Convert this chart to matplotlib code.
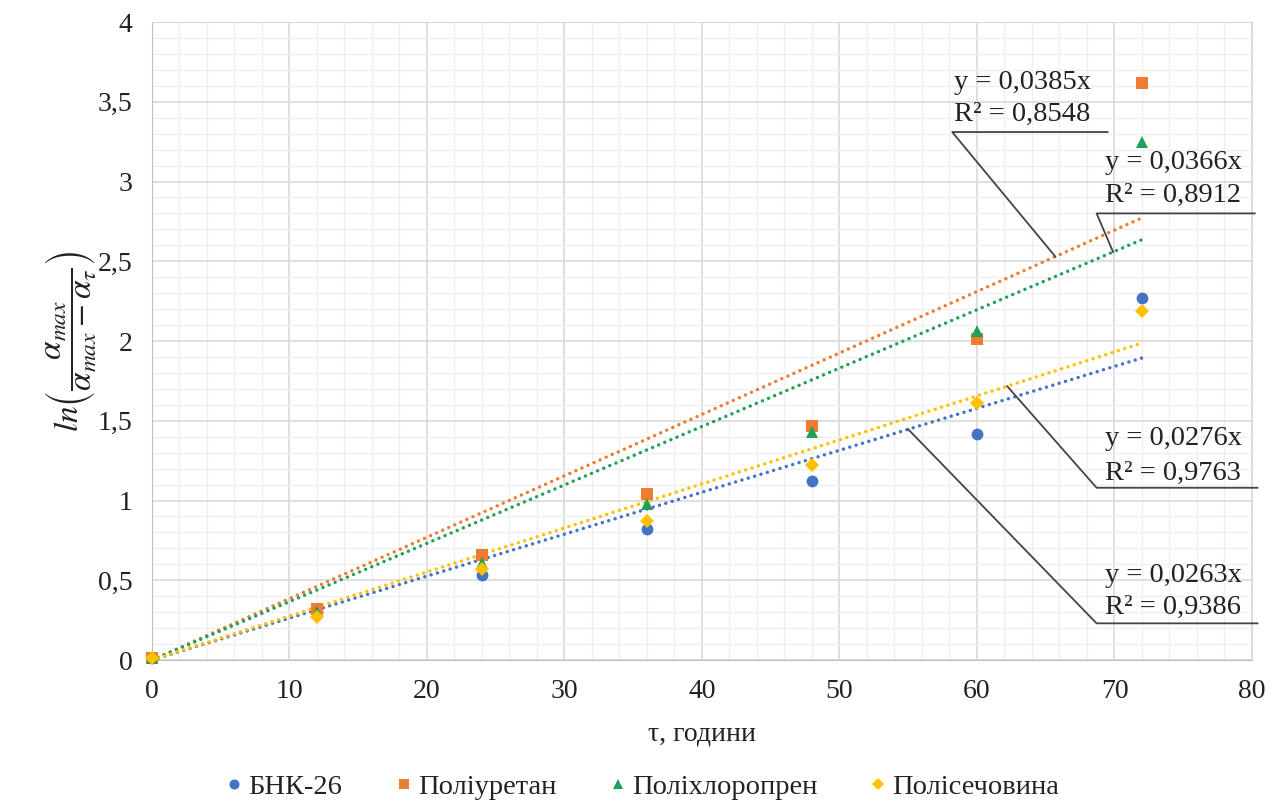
import matplotlib

matplotlib.use("Agg")
import matplotlib.pyplot as plt
from matplotlib.ticker import FuncFormatter, MultipleLocator, AutoMinorLocator

plt.rcParams["font.family"] = ["Liberation Serif", "DejaVu Serif"]
plt.rcParams["mathtext.fontset"] = "stix"

# sampling times, hours
hours = [0, 12, 24, 36, 48, 60, 72]

# ln(a_max / (a_max - a_t)) per coating
bnk = [0.01, 0.30, 0.53, 0.82, 1.12, 1.42, 2.27]
polyurethane = [0.01, 0.32, 0.66, 1.04, 1.47, 2.01, 3.62]
polychloroprene = [0.01, 0.30, 0.61, 0.98, 1.43, 2.06, 3.25]
polyurea = [0.01, 0.27, 0.57, 0.87, 1.22, 1.61, 2.19]

names = ["БНК-26", "Поліуретан", "Поліхлоропрен", "Полісечовина"]
series = [bnk, polyurethane, polychloroprene, polyurea]
colors = ["#4472C4", "#ED7D31", "#21A05A", "#FFC000"]
markers = ["o", "s", "^", "D"]
msizes = [8.5, 8.0, 9.0, 7.5]

# linear fits through the origin: slope, R^2
slopes = [0.0263, 0.0385, 0.0366, 0.0276]
r2 = ["0,9386", "0,8548", "0,8912", "0,9763"]
slope_txt = ["0,0263", "0,0385", "0,0366", "0,0276"]

# callout boxes: text anchor (x, y1, y2), underline (x0, x1, y), leader end x on the fit line
callouts = [
    (69.3, 0.53, 0.33, 68.7, 80.4, 0.23, 55.0),
    (58.3, 3.62, 3.42, 58.2, 69.5, 3.31, 65.7),
    (69.3, 3.12, 2.91, 68.7, 80.2, 2.80, 69.9),
    (69.3, 1.39, 1.17, 68.7, 80.4, 1.08, 62.2),
]

fig = plt.figure(figsize=(12.74, 8.06), dpi=100)
ax = fig.add_axes([0.1193, 0.1811, 0.8634, 0.7916])

ax.set_xlim(0, 80)
ax.set_ylim(0, 4)
ax.xaxis.set_major_locator(MultipleLocator(10))
ax.yaxis.set_major_locator(MultipleLocator(0.5))
ax.xaxis.set_minor_locator(AutoMinorLocator(5))
ax.yaxis.set_minor_locator(AutoMinorLocator(5))
ax.grid(which="major", color="#D9D9D9", lw=1.2)
ax.grid(which="minor", color="#EFEFEF", lw=0.9)
ax.set_axisbelow(True)
for s in ax.spines.values():
    s.set_color("#D9D9D9")
ax.spines["left"].set_color("#BFBFBF")
ax.spines["bottom"].set_color("#BFBFBF")

fmt = FuncFormatter(lambda v, _: f"{v:g}".replace(".", ","))
ax.xaxis.set_major_formatter(fmt)
ax.yaxis.set_major_formatter(fmt)
ax.tick_params(which="both", length=0, labelsize=20, colors="#222222")
ax.tick_params(axis="y", pad=14)
ax.tick_params(axis="x", pad=14)

# fitted lines first, markers on top
fit_x = [0, hours[-1]]
for k, c in zip(slopes, colors):
    ax.plot(fit_x, [k * x for x in fit_x], ls=(0, (0.01, 1.9)), lw=2.5,
            color=c, dash_capstyle="round", zorder=2)

for ys, name, c, m, ms in zip(series, names, colors, markers, msizes):
    ax.plot(hours, ys, ls="none", marker=m, ms=ms, color=c, label=name,
            markeredgewidth=0, clip_on=False, zorder=3)

for k, sl, rr, (tx, ty1, ty2, ux0, ux1, uy, lx) in zip(slopes, slope_txt, r2, callouts):
    ax.text(tx, ty1, f"y = {sl}x", fontsize=20.5, va="center", ha="left",
            color="#222222", clip_on=False, zorder=5)
    ax.text(tx, ty2, f"R² = {rr}", fontsize=20.5, va="center", ha="left",
            color="#222222", clip_on=False, zorder=5)
    ax.plot([lx, ux0, ux1], [k * lx, uy, uy], color="#444444", lw=1.3,
            clip_on=False, zorder=4)

ax.set_xlabel("τ, години", fontsize=20, labelpad=12, color="#222222")
ax.set_ylabel(r"$ln\left(\dfrac{\alpha_{max}}{\alpha_{max}-\alpha_{\tau}}\right)$",
              fontsize=24, labelpad=0, color="#222222")

fig.legend(loc="center", bbox_to_anchor=(0.505, 0.024), ncol=4, frameon=False,
           fontsize=20.5, handlelength=0.5, handletextpad=0.25, columnspacing=1.9,
           markerscale=0.85, labelcolor="#222222")

fig.savefig("out.png", dpi=100)
